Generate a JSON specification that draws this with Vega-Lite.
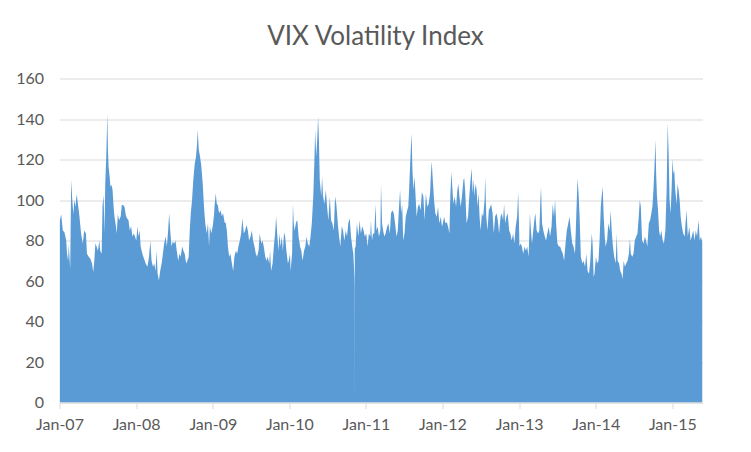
{
  "$schema": "https://vega.github.io/schema/vega-lite/v6.json",
  "width": 643,
  "height": 324,
  "autosize": {"type": "none"},
  "padding": {"left": 59.5, "top": 78.5, "right": 48.5, "bottom": 49.5},
  "background": "white",
  "title": {"text": "VIX Volatility Index", "font": "Lato", "fontSize": 26, "fontWeight": "normal", "color": "#595959", "anchor": "middle", "frame": "group", "dx": -5.5, "offset": 21},
  "data": {"values": [
{"d":"2007-01-02","v":88},{"d":"2007-01-03","v":90},{"d":"2007-01-09","v":93},{"d":"2007-01-17","v":85},{"d":"2007-01-25","v":84},{"d":"2007-02-02","v":80},{"d":"2007-02-06","v":73.5},{"d":"2007-02-11","v":70},{"d":"2007-02-14","v":78},{"d":"2007-02-21","v":66},{"d":"2007-02-25","v":103},{"d":"2007-02-27","v":110},{"d":"2007-03-02","v":101.6},{"d":"2007-03-08","v":93},{"d":"2007-03-13","v":100},{"d":"2007-03-18","v":96.7},{"d":"2007-03-24","v":103},{"d":"2007-03-30","v":98},{"d":"2007-04-06","v":92},{"d":"2007-04-14","v":83.5},{"d":"2007-04-22","v":78.5},{"d":"2007-04-29","v":85},{"d":"2007-05-07","v":83.5},{"d":"2007-05-12","v":73.5},{"d":"2007-05-20","v":72},{"d":"2007-05-28","v":71},{"d":"2007-06-05","v":68.6},{"d":"2007-06-11","v":64.5},{"d":"2007-06-16","v":70},{"d":"2007-06-21","v":78.5},{"d":"2007-06-27","v":77},{"d":"2007-07-03","v":75},{"d":"2007-07-10","v":80},{"d":"2007-07-14","v":75},{"d":"2007-07-21","v":73.5},{"d":"2007-07-25","v":96.7},{"d":"2007-07-30","v":102.5},{"d":"2007-08-04","v":83.5},{"d":"2007-08-07","v":108},{"d":"2007-08-12","v":121.5},{"d":"2007-08-17","v":143},{"d":"2007-08-20","v":125},{"d":"2007-08-23","v":116.5},{"d":"2007-08-28","v":111.6},{"d":"2007-09-01","v":106.6},{"d":"2007-09-06","v":107.5},{"d":"2007-09-11","v":105},{"d":"2007-09-16","v":96.7},{"d":"2007-09-20","v":92},{"d":"2007-09-27","v":87},{"d":"2007-10-01","v":83.5},{"d":"2007-10-06","v":93},{"d":"2007-10-12","v":90},{"d":"2007-10-20","v":92},{"d":"2007-10-25","v":97.5},{"d":"2007-10-31","v":97.5},{"d":"2007-11-07","v":96.7},{"d":"2007-11-13","v":92.5},{"d":"2007-11-19","v":91},{"d":"2007-11-26","v":90},{"d":"2007-12-02","v":85},{"d":"2007-12-08","v":87},{"d":"2007-12-15","v":82},{"d":"2007-12-21","v":83.5},{"d":"2007-12-27","v":82},
{"d":"2008-01-02","v":80},{"d":"2008-01-08","v":87},{"d":"2008-01-12","v":82},{"d":"2008-01-18","v":85},{"d":"2008-01-23","v":77},{"d":"2008-01-31","v":73.5},{"d":"2008-02-08","v":71},{"d":"2008-02-16","v":68.6},{"d":"2008-02-24","v":67},{"d":"2008-03-03","v":72},{"d":"2008-03-09","v":80},{"d":"2008-03-15","v":70},{"d":"2008-03-22","v":67},{"d":"2008-03-28","v":68.6},{"d":"2008-04-03","v":65},{"d":"2008-04-08","v":75},{"d":"2008-04-13","v":63.6},{"d":"2008-04-19","v":60.3},{"d":"2008-04-25","v":65},{"d":"2008-05-02","v":68.6},{"d":"2008-05-08","v":73.5},{"d":"2008-05-14","v":78.5},{"d":"2008-05-21","v":82},{"d":"2008-05-27","v":77},{"d":"2008-06-02","v":85},{"d":"2008-06-07","v":93.4},{"d":"2008-06-12","v":85},{"d":"2008-06-18","v":77},{"d":"2008-06-24","v":79.4},{"d":"2008-07-01","v":78.5},{"d":"2008-07-07","v":80},{"d":"2008-07-13","v":75},{"d":"2008-07-20","v":70},{"d":"2008-07-26","v":73.5},{"d":"2008-08-01","v":72},{"d":"2008-08-08","v":77},{"d":"2008-08-14","v":75},{"d":"2008-08-20","v":73.5},{"d":"2008-08-27","v":68.6},{"d":"2008-09-02","v":70},{"d":"2008-09-08","v":72},{"d":"2008-09-13","v":85},{"d":"2008-09-18","v":93.4},{"d":"2008-09-24","v":100},{"d":"2008-09-30","v":110},{"d":"2008-10-07","v":118},{"d":"2008-10-13","v":121.5},{"d":"2008-10-18","v":128},{"d":"2008-10-21","v":134.7},{"d":"2008-10-26","v":125},{"d":"2008-11-01","v":121.5},{"d":"2008-11-07","v":117},{"d":"2008-11-14","v":108},{"d":"2008-11-20","v":96.7},{"d":"2008-11-26","v":88.5},{"d":"2008-12-03","v":83.5},{"d":"2008-12-09","v":88.5},{"d":"2008-12-14","v":77},{"d":"2008-12-18","v":87},{"d":"2008-12-25","v":83.5},
{"d":"2009-01-02","v":88},{"d":"2009-01-07","v":93},{"d":"2009-01-09","v":96.7},{"d":"2009-01-15","v":103.3},{"d":"2009-01-20","v":98},{"d":"2009-01-25","v":97.5},{"d":"2009-01-31","v":93.4},{"d":"2009-02-07","v":95},{"d":"2009-02-13","v":92},{"d":"2009-02-19","v":93.4},{"d":"2009-02-26","v":89},{"d":"2009-03-04","v":88.5},{"d":"2009-03-09","v":85},{"d":"2009-03-14","v":77},{"d":"2009-03-20","v":72},{"d":"2009-03-26","v":73.5},{"d":"2009-04-02","v":68.6},{"d":"2009-04-08","v":65},{"d":"2009-04-14","v":72},{"d":"2009-04-21","v":75},{"d":"2009-04-27","v":73.5},{"d":"2009-05-03","v":77},{"d":"2009-05-10","v":80},{"d":"2009-05-16","v":83.5},{"d":"2009-05-22","v":91},{"d":"2009-05-29","v":83.5},{"d":"2009-06-04","v":85},{"d":"2009-06-11","v":87.6},{"d":"2009-06-17","v":85},{"d":"2009-06-23","v":80},{"d":"2009-06-30","v":82},{"d":"2009-07-06","v":85},{"d":"2009-07-12","v":80},{"d":"2009-07-19","v":77},{"d":"2009-07-25","v":73.5},{"d":"2009-07-31","v":72},{"d":"2009-08-07","v":75},{"d":"2009-08-13","v":83.5},{"d":"2009-08-20","v":78.5},{"d":"2009-08-26","v":80},{"d":"2009-09-01","v":77},{"d":"2009-09-08","v":72},{"d":"2009-09-14","v":70},{"d":"2009-09-20","v":72},{"d":"2009-09-27","v":68.6},{"d":"2009-10-01","v":75},{"d":"2009-10-06","v":65},{"d":"2009-10-13","v":68.6},{"d":"2009-10-19","v":77},{"d":"2009-10-25","v":83.5},{"d":"2009-10-30","v":92},{"d":"2009-11-04","v":83.5},{"d":"2009-11-10","v":75},{"d":"2009-11-15","v":83.5},{"d":"2009-11-20","v":77},{"d":"2009-11-26","v":82},{"d":"2009-12-01","v":75},{"d":"2009-12-07","v":84},{"d":"2009-12-12","v":82},{"d":"2009-12-18","v":75},{"d":"2009-12-25","v":68.6},{"d":"2009-12-29","v":70},
{"d":"2010-01-04","v":73.5},{"d":"2010-01-07","v":65},{"d":"2010-01-14","v":73.5},{"d":"2010-01-18","v":98},{"d":"2010-01-22","v":88.5},{"d":"2010-01-26","v":85},{"d":"2010-02-02","v":89},{"d":"2010-02-08","v":90},{"d":"2010-02-14","v":82},{"d":"2010-02-21","v":77},{"d":"2010-02-27","v":75},{"d":"2010-03-05","v":70},{"d":"2010-03-12","v":75},{"d":"2010-03-18","v":77},{"d":"2010-03-24","v":82},{"d":"2010-03-30","v":78.5},{"d":"2010-04-06","v":77},{"d":"2010-04-12","v":82},{"d":"2010-04-18","v":88.5},{"d":"2010-04-25","v":101.7},{"d":"2010-05-01","v":121.5},{"d":"2010-05-04","v":134.7},{"d":"2010-05-09","v":121.5},{"d":"2010-05-14","v":130},{"d":"2010-05-18","v":141.3},{"d":"2010-05-22","v":130},{"d":"2010-05-26","v":110},{"d":"2010-06-02","v":101.7},{"d":"2010-06-06","v":111.6},{"d":"2010-06-11","v":101.7},{"d":"2010-06-17","v":98},{"d":"2010-06-24","v":105},{"d":"2010-06-30","v":96.7},{"d":"2010-07-06","v":90},{"d":"2010-07-13","v":101.7},{"d":"2010-07-19","v":90},{"d":"2010-07-25","v":88.5},{"d":"2010-08-01","v":85},{"d":"2010-08-07","v":101.7},{"d":"2010-08-13","v":98},{"d":"2010-08-20","v":88.5},{"d":"2010-08-26","v":82},{"d":"2010-09-01","v":77},{"d":"2010-09-08","v":87},{"d":"2010-09-14","v":85},{"d":"2010-09-20","v":80},{"d":"2010-09-27","v":85},{"d":"2010-10-03","v":82},{"d":"2010-10-09","v":88.5},{"d":"2010-10-16","v":91},{"d":"2010-10-22","v":82},{"d":"2010-10-28","v":77},{"d":"2010-11-02","v":73.5},{"d":"2010-11-07","v":62},{"d":"2010-11-08","v":56},{"d":"2010-11-08T12:00:00Z","v":0},{"d":"2010-11-09","v":76},{"d":"2010-11-13","v":77},{"d":"2010-11-19","v":88.5},{"d":"2010-11-26","v":82},{"d":"2010-12-02","v":90},{"d":"2010-12-08","v":83.5},{"d":"2010-12-15","v":87},{"d":"2010-12-21","v":85},{"d":"2010-12-27","v":82},
{"d":"2011-01-03","v":83.5},{"d":"2011-01-09","v":77},{"d":"2011-01-15","v":83.5},{"d":"2011-01-22","v":82},{"d":"2011-01-25","v":90},{"d":"2011-01-30","v":80},{"d":"2011-02-04","v":83.5},{"d":"2011-02-10","v":83.5},{"d":"2011-02-16","v":98},{"d":"2011-02-20","v":85},{"d":"2011-02-26","v":86.8},{"d":"2011-03-04","v":82},{"d":"2011-03-11","v":85},{"d":"2011-03-14","v":108},{"d":"2011-03-19","v":88.5},{"d":"2011-03-24","v":85},{"d":"2011-03-30","v":82},{"d":"2011-04-05","v":83.5},{"d":"2011-04-12","v":86.8},{"d":"2011-04-18","v":88.5},{"d":"2011-04-25","v":83.5},{"d":"2011-05-01","v":93.4},{"d":"2011-05-07","v":95},{"d":"2011-05-14","v":93.4},{"d":"2011-05-20","v":88.5},{"d":"2011-05-27","v":82},{"d":"2011-06-02","v":85},{"d":"2011-06-08","v":96.7},{"d":"2011-06-13","v":105},{"d":"2011-06-18","v":93.4},{"d":"2011-06-23","v":98},{"d":"2011-06-28","v":80},{"d":"2011-07-04","v":83.5},{"d":"2011-07-10","v":91.7},{"d":"2011-07-17","v":95},{"d":"2011-07-22","v":96.7},{"d":"2011-07-26","v":105},{"d":"2011-07-31","v":118},{"d":"2011-08-03","v":124.8},{"d":"2011-08-07","v":133},{"d":"2011-08-11","v":115},{"d":"2011-08-16","v":105},{"d":"2011-08-21","v":111.6},{"d":"2011-08-26","v":101.7},{"d":"2011-08-31","v":91.7},{"d":"2011-09-06","v":96.7},{"d":"2011-09-12","v":98},{"d":"2011-09-19","v":95},{"d":"2011-09-25","v":104},{"d":"2011-10-02","v":101.7},{"d":"2011-10-08","v":90},{"d":"2011-10-14","v":103.3},{"d":"2011-10-21","v":96.7},{"d":"2011-10-27","v":98},{"d":"2011-11-03","v":103.3},{"d":"2011-11-07","v":113},{"d":"2011-11-11","v":119},{"d":"2011-11-15","v":111.6},{"d":"2011-11-22","v":100},{"d":"2011-11-28","v":93.4},{"d":"2011-12-05","v":91.7},{"d":"2011-12-11","v":96.7},{"d":"2011-12-17","v":88.5},{"d":"2011-12-24","v":91.7},{"d":"2011-12-30","v":86.8},
{"d":"2012-01-03","v":88.5},{"d":"2012-01-09","v":91.7},{"d":"2012-01-15","v":88.5},{"d":"2012-01-22","v":89},{"d":"2012-01-28","v":86.8},{"d":"2012-02-03","v":83.5},{"d":"2012-02-08","v":103.3},{"d":"2012-02-13","v":114},{"d":"2012-02-17","v":106.6},{"d":"2012-02-22","v":98},{"d":"2012-02-28","v":101.7},{"d":"2012-03-06","v":96.7},{"d":"2012-03-12","v":105},{"d":"2012-03-17","v":108},{"d":"2012-03-22","v":101.7},{"d":"2012-03-28","v":96.7},{"d":"2012-04-03","v":101.7},{"d":"2012-04-10","v":110},{"d":"2012-04-14","v":110.7},{"d":"2012-04-19","v":103.3},{"d":"2012-04-25","v":88.5},{"d":"2012-05-02","v":91.7},{"d":"2012-05-08","v":101.7},{"d":"2012-05-14","v":110},{"d":"2012-05-19","v":115.7},{"d":"2012-05-24","v":103.3},{"d":"2012-05-29","v":110},{"d":"2012-06-02","v":101.7},{"d":"2012-06-07","v":108},{"d":"2012-06-12","v":105},{"d":"2012-06-16","v":96.7},{"d":"2012-06-21","v":103.3},{"d":"2012-06-26","v":91.7},{"d":"2012-07-01","v":85},{"d":"2012-07-07","v":93.4},{"d":"2012-07-13","v":91.7},{"d":"2012-07-20","v":100},{"d":"2012-07-23","v":111.6},{"d":"2012-07-28","v":91.7},{"d":"2012-08-03","v":85},{"d":"2012-08-09","v":95},{"d":"2012-08-16","v":96.7},{"d":"2012-08-20","v":98},{"d":"2012-08-27","v":93.4},{"d":"2012-09-02","v":83.5},{"d":"2012-09-08","v":91.7},{"d":"2012-09-15","v":93.4},{"d":"2012-09-21","v":90},{"d":"2012-09-27","v":83.5},{"d":"2012-10-04","v":91.7},{"d":"2012-10-10","v":93.4},{"d":"2012-10-16","v":90},{"d":"2012-10-21","v":98},{"d":"2012-10-26","v":88.5},{"d":"2012-11-01","v":91.7},{"d":"2012-11-07","v":93.4},{"d":"2012-11-14","v":85},{"d":"2012-11-20","v":83.5},{"d":"2012-11-26","v":80},{"d":"2012-12-03","v":83.5},{"d":"2012-12-09","v":78.5},{"d":"2012-12-15","v":86.8},{"d":"2012-12-22","v":91.7},{"d":"2012-12-27","v":104},{"d":"2012-12-31","v":88.5},
{"d":"2013-01-02","v":77},{"d":"2013-01-07","v":78.5},{"d":"2013-01-14","v":77},{"d":"2013-01-20","v":73.5},{"d":"2013-01-27","v":77},{"d":"2013-02-02","v":75},{"d":"2013-02-08","v":77},{"d":"2013-02-15","v":72},{"d":"2013-02-21","v":93.4},{"d":"2013-02-26","v":85},{"d":"2013-03-03","v":78.5},{"d":"2013-03-09","v":85},{"d":"2013-03-16","v":91.7},{"d":"2013-03-19","v":93.4},{"d":"2013-03-25","v":85},{"d":"2013-04-01","v":83.5},{"d":"2013-04-07","v":85},{"d":"2013-04-12","v":100},{"d":"2013-04-15","v":106.6},{"d":"2013-04-20","v":88.5},{"d":"2013-04-26","v":85},{"d":"2013-05-03","v":82},{"d":"2013-05-09","v":80},{"d":"2013-05-15","v":83.5},{"d":"2013-05-22","v":86.8},{"d":"2013-05-28","v":82},{"d":"2013-06-04","v":86.8},{"d":"2013-06-10","v":98},{"d":"2013-06-16","v":91.7},{"d":"2013-06-21","v":100},{"d":"2013-06-26","v":88.5},{"d":"2013-07-02","v":78.5},{"d":"2013-07-09","v":77},{"d":"2013-07-15","v":77},{"d":"2013-07-22","v":75},{"d":"2013-07-28","v":73.5},{"d":"2013-08-03","v":70},{"d":"2013-08-10","v":78.5},{"d":"2013-08-16","v":85},{"d":"2013-08-23","v":88.5},{"d":"2013-08-29","v":91.7},{"d":"2013-09-04","v":85},{"d":"2013-09-11","v":78.5},{"d":"2013-09-17","v":77},{"d":"2013-09-24","v":73.5},{"d":"2013-09-30","v":91.7},{"d":"2013-10-06","v":110.5},{"d":"2013-10-11","v":103.3},{"d":"2013-10-16","v":91.7},{"d":"2013-10-22","v":72},{"d":"2013-10-29","v":68.6},{"d":"2013-11-04","v":70},{"d":"2013-11-11","v":67},{"d":"2013-11-17","v":73.5},{"d":"2013-11-23","v":65},{"d":"2013-11-30","v":63.6},{"d":"2013-12-06","v":70},{"d":"2013-12-13","v":83.5},{"d":"2013-12-17","v":78.5},{"d":"2013-12-22","v":62},{"d":"2013-12-26","v":63.6},{"d":"2013-12-30","v":68.6},
{"d":"2014-01-02","v":72},{"d":"2014-01-07","v":68.6},{"d":"2014-01-14","v":70},{"d":"2014-01-20","v":82},{"d":"2014-01-25","v":96.7},{"d":"2014-01-29","v":101.7},{"d":"2014-02-03","v":106.6},{"d":"2014-02-08","v":91.7},{"d":"2014-02-13","v":82},{"d":"2014-02-17","v":77},{"d":"2014-02-24","v":80},{"d":"2014-03-02","v":88.5},{"d":"2014-03-08","v":85},{"d":"2014-03-13","v":95},{"d":"2014-03-18","v":85},{"d":"2014-03-24","v":77},{"d":"2014-03-30","v":72},{"d":"2014-04-06","v":68.6},{"d":"2014-04-11","v":83.5},{"d":"2014-04-15","v":70},{"d":"2014-04-22","v":68.6},{"d":"2014-04-28","v":65},{"d":"2014-05-04","v":63.6},{"d":"2014-05-09","v":61},{"d":"2014-05-14","v":70},{"d":"2014-05-20","v":67},{"d":"2014-05-26","v":68.6},{"d":"2014-06-02","v":70},{"d":"2014-06-08","v":73.5},{"d":"2014-06-13","v":81},{"d":"2014-06-17","v":73.5},{"d":"2014-06-24","v":72},{"d":"2014-06-30","v":73.5},{"d":"2014-07-06","v":80},{"d":"2014-07-13","v":82},{"d":"2014-07-19","v":83.5},{"d":"2014-07-25","v":91.7},{"d":"2014-07-30","v":100},{"d":"2014-08-04","v":96.7},{"d":"2014-08-10","v":80},{"d":"2014-08-17","v":78.5},{"d":"2014-08-23","v":82},{"d":"2014-08-29","v":80},{"d":"2014-09-04","v":77},{"d":"2014-09-11","v":88.5},{"d":"2014-09-17","v":90},{"d":"2014-09-23","v":93.4},{"d":"2014-09-28","v":96.7},{"d":"2014-10-03","v":105},{"d":"2014-10-08","v":116.5},{"d":"2014-10-13","v":129.8},{"d":"2014-10-16","v":113},{"d":"2014-10-20","v":101.7},{"d":"2014-10-25","v":95},{"d":"2014-10-30","v":85},{"d":"2014-11-04","v":82},{"d":"2014-11-10","v":85},{"d":"2014-11-16","v":80},{"d":"2014-11-22","v":78.5},{"d":"2014-11-29","v":85},{"d":"2014-12-05","v":105},{"d":"2014-12-10","v":138},{"d":"2014-12-15","v":121.5},{"d":"2014-12-19","v":100},{"d":"2014-12-24","v":93.4},{"d":"2014-12-29","v":106.6},
{"d":"2015-01-02","v":120.6},{"d":"2015-01-06","v":113},{"d":"2015-01-10","v":115},{"d":"2015-01-15","v":105},{"d":"2015-01-22","v":98},{"d":"2015-01-26","v":108},{"d":"2015-01-31","v":105},{"d":"2015-02-05","v":100},{"d":"2015-02-10","v":91.7},{"d":"2015-02-16","v":86.8},{"d":"2015-02-22","v":83.5},{"d":"2015-03-01","v":82},{"d":"2015-03-05","v":88.5},{"d":"2015-03-10","v":95},{"d":"2015-03-16","v":82},{"d":"2015-03-23","v":86.8},{"d":"2015-03-29","v":80},{"d":"2015-04-04","v":82},{"d":"2015-04-11","v":85},{"d":"2015-04-17","v":80},{"d":"2015-04-23","v":85},{"d":"2015-04-29","v":82},{"d":"2015-05-06","v":90},{"d":"2015-05-12","v":80},{"d":"2015-05-18","v":82},{"d":"2015-05-25","v":78.5}
  ]},
  "mark": {"type": "area", "color": "#5B9BD5", "interpolate": "linear", "clip": true},
  "encoding": {
    "x": {
      "field": "d", "type": "temporal",
      "scale": {"type": "utc", "domain": [{"year": 2007, "month": 1, "date": 1, "utc": true}, {"year": 2015, "month": 5, "date": 25, "utc": true}]},
      "axis": {
        "title": null, "grid": false,
        "labelExpr": "utcFormat(datum.value, '%b-%y')",
        "values": [{"year": 2007, "month": 1, "date": 1, "utc": true}, {"year": 2008, "month": 1, "date": 1, "utc": true}, {"year": 2009, "month": 1, "date": 1, "utc": true}, {"year": 2010, "month": 1, "date": 1, "utc": true}, {"year": 2011, "month": 1, "date": 1, "utc": true}, {"year": 2012, "month": 1, "date": 1, "utc": true}, {"year": 2013, "month": 1, "date": 1, "utc": true}, {"year": 2014, "month": 1, "date": 1, "utc": true}, {"year": 2015, "month": 1, "date": 1, "utc": true}],
        "labelFont": "Lato", "labelFontSize": 16, "labelColor": "#595959",
        "domainColor": "#d9d9d9", "tickColor": "#d9d9d9", "tickSize": 6, "labelPadding": 8,
        "labelOverlap": false, "labelFlush": false
      }
    },
    "y": {
      "field": "v", "type": "quantitative",
      "scale": {"domain": [0, 160], "nice": false},
      "axis": {
        "title": null, "values": [0, 20, 40, 60, 80, 100, 120, 140, 160],
        "grid": true, "gridColor": "#d9d9d9", "domain": false, "ticks": false,
        "labelFont": "Lato", "labelFontSize": 16, "labelColor": "#595959", "labelPadding": 16
      }
    }
  },
  "config": {"view": {"stroke": null}}
}
